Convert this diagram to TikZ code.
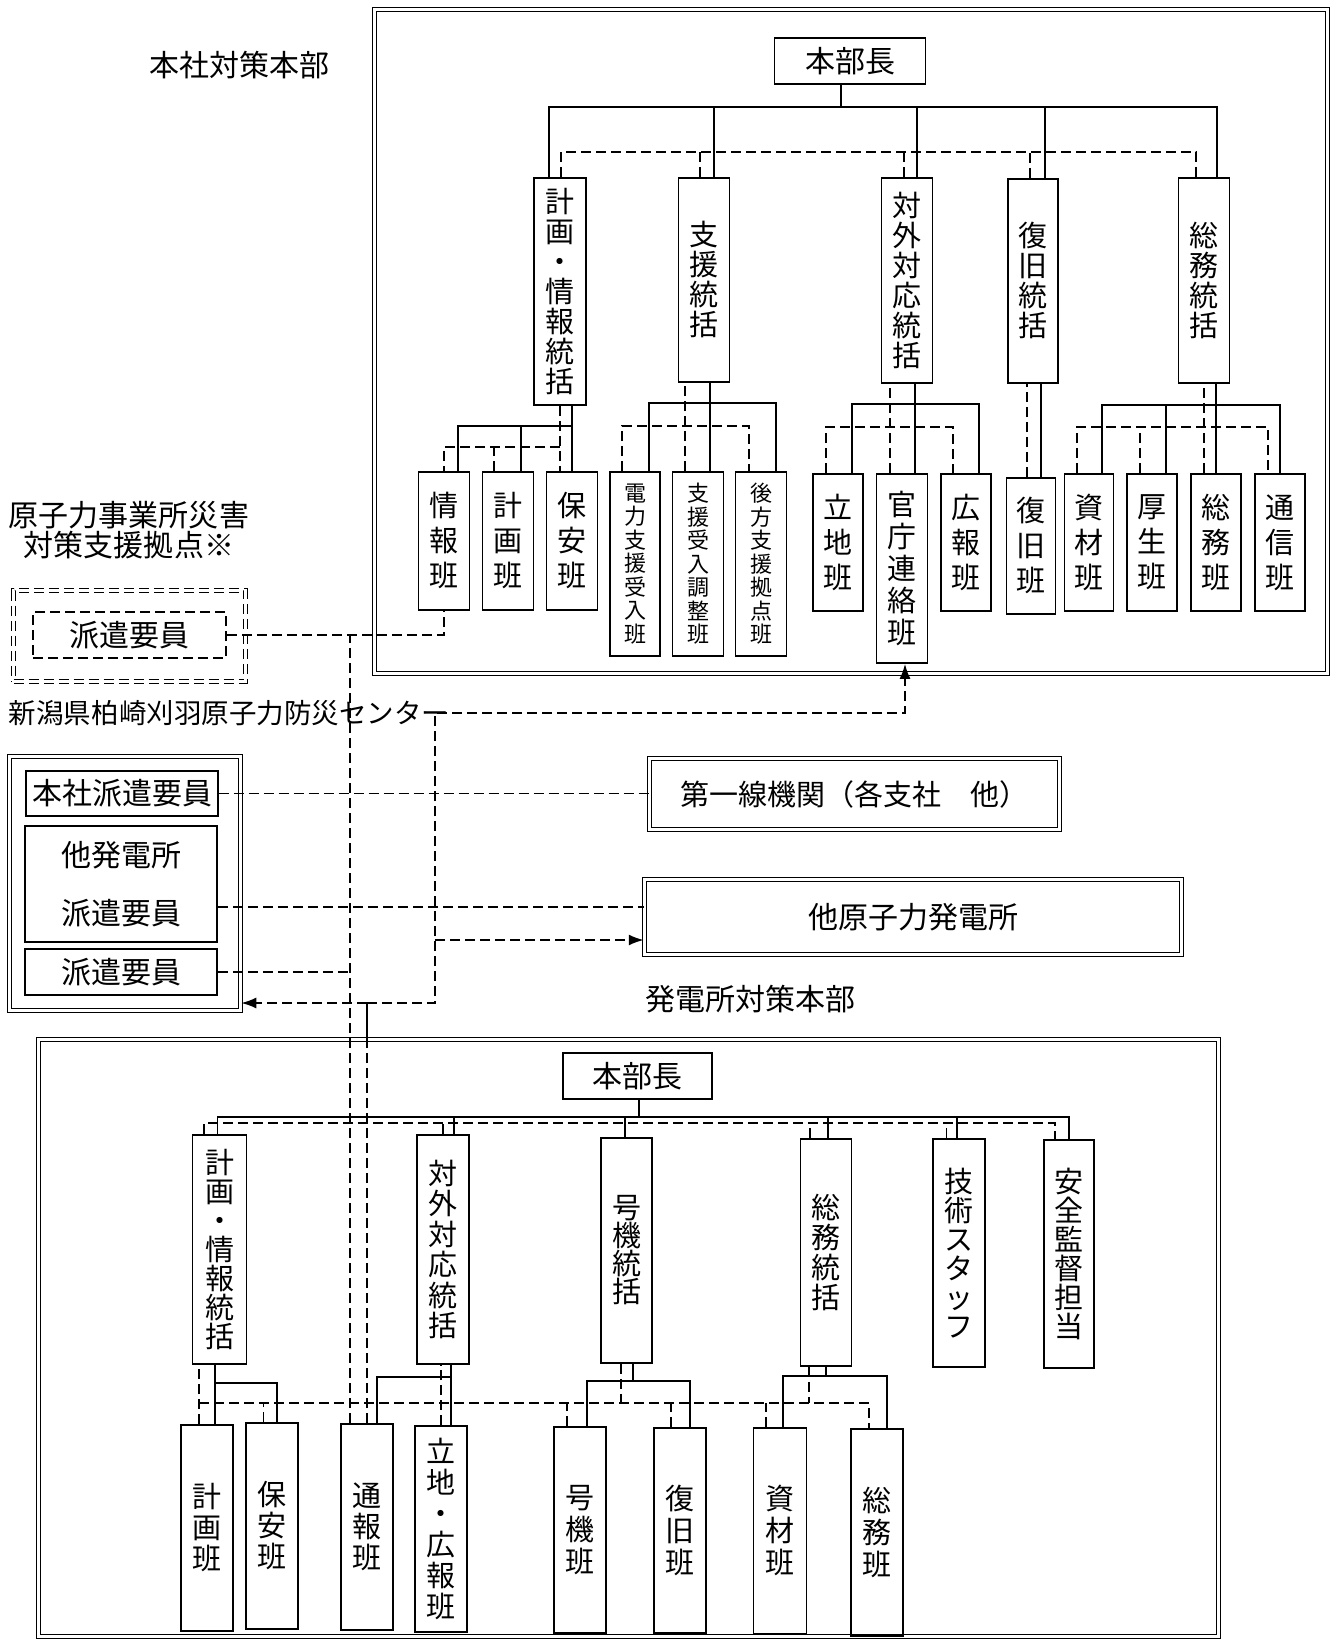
\documentclass[tikz,border=0pt]{standalone}
\usepackage{fontspec}
\setmainfont{Noto Sans CJK JP}
\usetikzlibrary{arrows.meta}

\tikzset{
  box/.style={draw, align=center, inner sep=0pt, font=\fontsize{30}{32}\selectfont},
  vbox/.style={draw, align=center, inner sep=0pt, anchor=north, font=\fontsize{29}{#1}\selectfont},
  vbox/.default=30,
  sbox/.style={draw, align=center, inner sep=0pt, anchor=north, font=\fontsize{22}{23.5}\selectfont},
  dframe/.style={draw, double, double distance=2.5pt, line width=1.5pt, inner sep=0pt},
  link/.style={dash pattern=on 10pt off 5pt},
  headtext/.style={align=center, inner sep=0pt, font=\fontsize{30}{30}\selectfont},
  tip/.style={-{Latex[length=15pt,width=11pt]}},
}

\begin{document}
\begin{tikzpicture}[x=1pt, y=-1pt, line width=1.8pt]
    \useasboundingbox (0,0) rectangle (1335,1645);

    % Head office nodes
    \node (honsha) [dframe, minimum width=953pt, minimum height=664pt] at (851,341.5) {};
    \node (hqtitle) [headtext] at (239,65) {本社対策本部};
    \node (hqA) [box, minimum width=151pt, minimum height=46pt] at (850,61) {本部長};

    \node (kjA) [vbox, minimum width=52pt, minimum height=227pt] at (560,177) {計\\画\\・\\情\\報\\統\\括};
    \node (shA) [vbox, minimum width=51pt, minimum height=204pt] at (704,177) {支\\援\\統\\括};
    \node (gtA) [vbox, minimum width=51pt, minimum height=205pt] at (907,177) {対\\外\\対\\応\\統\\括};
    \node (fkA) [vbox, minimum width=50pt, minimum height=204pt] at (1033,178) {復\\旧\\統\\括};
    \node (smA) [vbox, minimum width=51pt, minimum height=205pt] at (1204,177) {総\\務\\統\\括};

    \node (jhoA) [vbox=35, minimum width=51pt, minimum height=138pt] at (444,471) {情\\報\\班};
    \node (kkA) [vbox=35, minimum width=51pt, minimum height=138pt] at (508,471) {計\\画\\班};
    \node (hoA) [vbox=35, minimum width=51pt, minimum height=138pt] at (572,471) {保\\安\\班};
    \node (dsA) [sbox, minimum width=50pt, minimum height=184pt] at (635,471) {電\\力\\支\\援\\受\\入\\班};
    \node (suA) [sbox, minimum width=51pt, minimum height=184pt] at (698,471) {支\\援\\受\\入\\調\\整\\班};
    \node (kbA) [sbox, minimum width=51pt, minimum height=184pt] at (761,471) {後\\方\\支\\援\\拠\\点\\班};
    \node (rcA) [vbox=35, minimum width=50pt, minimum height=137pt] at (838,473) {立\\地\\班};
    \node (kcA) [vbox=32, minimum width=51pt, minimum height=189pt] at (902,473) {官\\庁\\連\\絡\\班};
    \node (khA) [vbox=35, minimum width=50pt, minimum height=137pt] at (966,473) {広\\報\\班};
    \node (fhA) [vbox=35, minimum width=49pt, minimum height=136pt] at (1031,477) {復\\旧\\班};
    \node (szA) [vbox=35, minimum width=49pt, minimum height=137pt] at (1089,473) {資\\材\\班};
    \node (kosA) [vbox=35, minimum width=50pt, minimum height=137pt] at (1152,473) {厚\\生\\班};
    \node (smhA) [vbox=35, minimum width=50pt, minimum height=137pt] at (1216,473) {総\\務\\班};
    \node (tsA) [vbox=35, minimum width=50pt, minimum height=137pt] at (1280,473) {通\\信\\班};

    % Head office lines
    \coordinate (busA) at (841,107);
    \draw (hqA.south -| busA) -- (busA);
    \draw (busA) -| ([xshift=-11pt]kjA.north);
    \draw (busA) -| ([xshift=10pt]shA.north);
    \draw (busA) -| ([xshift=10pt]gtA.north);
    \draw (busA) -| ([xshift=12pt]fkA.north);
    \draw (busA) -| ([xshift=13pt]smA.north);
    \draw[link] ([xshift=1pt]kjA.north) |- ([xshift=-8pt]smA.north |- 0,152) -- ([xshift=-8pt]smA.north);
    \draw[link] ([xshift=-4pt]shA.north) -- ([xshift=-4pt]shA.north |- 0,152);
    \draw[link] ([xshift=-3pt]gtA.north) -- ([xshift=-3pt]gtA.north |- 0,152);
    \draw[link] ([xshift=-3pt]fkA.north) -- ([xshift=-3pt]fkA.north |- 0,152);

    \draw ([xshift=12pt]kjA.south) -- (hoA.north);
    \draw (hoA.north |- 0,426) -| ([xshift=14pt]jhoA.north);
    \draw ([xshift=13pt]kkA.north) -- ([xshift=13pt]kkA.north |- 0,426);
    \draw[link] (kjA.south) -- ([xshift=-12pt]hoA.north);
    \draw[link] (kjA.south |- 0,447) -| (jhoA.north);
    \draw[link] ([xshift=-14pt]kkA.north) -- ([xshift=-14pt]kkA.north |- 0,447);

    \draw ([xshift=12pt]suA.north) -- ([xshift=12pt]suA.north |- shA.south);
    \draw ([xshift=14pt]dsA.north) |- ([xshift=15pt]kbA.north |- 0,403) -- ([xshift=15pt]kbA.north);
    \draw[link] ([xshift=-13pt]suA.north) -- ([xshift=-13pt]suA.north |- shA.south);
    \draw[link] ([xshift=-13pt]dsA.north) |- ([xshift=-12pt]kbA.north |- 0,426) -- ([xshift=-12pt]kbA.north);

    \draw ([xshift=13pt]kcA.north) -- ([xshift=13pt]kcA.north |- gtA.south);
    \draw ([xshift=14pt]rcA.north) |- ([xshift=13pt]khA.north |- 0,404) -- ([xshift=13pt]khA.north);
    \draw[link] ([xshift=-12pt]kcA.north) -- ([xshift=-12pt]kcA.north |- gtA.south);
    \draw[link] ([xshift=-12pt]rcA.north) |- ([xshift=-13pt]khA.north |- 0,427) -- ([xshift=-13pt]khA.north);

    \draw ([xshift=10pt]fhA.north) -- ([xshift=10pt]fhA.north |- fkA.south);
    \draw[link] ([xshift=-4pt]fhA.north) -- ([xshift=-4pt]fhA.north |- fkA.south);

    \draw (smhA.north) -- (smhA.north |- smA.south);
    \draw ([xshift=13pt]szA.north) |- (tsA.north |- 0,405) -- (tsA.north);
    \draw ([xshift=14pt]kosA.north) -- ([xshift=14pt]kosA.north |- 0,405);
    \draw[link] ([xshift=-12pt]smhA.north) -- ([xshift=-12pt]smhA.north |- smA.south);
    \draw[link] ([xshift=-12pt]szA.north) |- ([xshift=-12pt]tsA.north |- 0,427) -- ([xshift=-12pt]tsA.north);
    \draw[link] ([xshift=-12pt]kosA.north) -- ([xshift=-12pt]kosA.north |- 0,427);

    % Support base and centre
    \node (sbtitle) [headtext] at (129,530) {原子力事業所災害\\対策支援拠点※};
    \node (sbase) [dframe, link, minimum width=232pt, minimum height=91pt] at (129.5,636) {};
    \node (haken1) [box, link, minimum width=193pt, minimum height=46pt] at (129.5,635) {派遣要員};

    \node (ctitle) [headtext, font=\fontsize{27.5}{27.5}\selectfont] at (229,713) {新潟県柏崎刈羽原子力防災センター};
    \node (cntr) [dframe, minimum width=231pt, minimum height=254pt] at (125,883.5) {};
    \node (hhaken) [box, minimum width=192pt, minimum height=45pt] at (122,793.5) {本社派遣要員};
    \node (tahatsu) [box, minimum width=192pt, minimum height=116pt, font=\fontsize{30}{58}\selectfont] at (121,884) {他発電所\\派遣要員};
    \node (haken2) [box, minimum width=192pt, minimum height=46pt] at (121,972) {派遣要員};

    \node (daiichi) [dframe, font=\fontsize{29}{30}\selectfont, minimum width=410pt, minimum height=71pt] at (854.5,794) {第一線機関（各支社　他）};
    \node (tahou) [dframe, font=\fontsize{30}{30}\selectfont, minimum width=537pt, minimum height=75pt] at (913,917) {他原子力発電所};
    \node (pltitle) [headtext] at (750,999) {発電所対策本部};

    % Power station nodes
    \node (plant) [dframe, minimum width=1180pt, minimum height=597pt] at (628.5,1338) {};
    \node (hqB) [box, minimum width=149pt, minimum height=46pt] at (637.5,1076) {本部長};

    \node (kjB) [vbox=29, minimum width=54pt, minimum height=229pt] at (219.5,1134) {計\\画\\・\\情\\報\\統\\括};
    \node (gtB) [vbox=30.5, minimum width=52pt, minimum height=229pt] at (443,1134) {対\\外\\対\\応\\統\\括};
    \node (gkB) [vbox=28, minimum width=51pt, minimum height=225pt] at (626.5,1137) {号\\機\\統\\括};
    \node (smB) [vbox, minimum width=51pt, minimum height=227pt] at (826,1138) {総\\務\\統\\括};
    \node (gjB) [vbox=29, minimum width=52pt, minimum height=228pt] at (959,1138) {技\\術\\ス\\タ\\ッ\\フ};
    \node (anB) [vbox=29, minimum width=50pt, minimum height=228pt] at (1069,1139) {安\\全\\監\\督\\担\\当};

    \node (kkB) [vbox=31, minimum width=52pt, minimum height=206pt] at (207,1424) {計\\画\\班};
    \node (hoB) [vbox=31, minimum width=52pt, minimum height=206pt] at (272,1422) {保\\安\\班};
    \node (tuB) [vbox=31, minimum width=52pt, minimum height=206pt] at (367,1423) {通\\報\\班};
    \node (rkB) [vbox=31, minimum width=52pt, minimum height=206pt] at (441,1425) {立\\地\\・\\広\\報\\班};
    \node (gkhB) [vbox=32, minimum width=52pt, minimum height=206pt] at (580,1426) {号\\機\\班};
    \node (fhB) [vbox=32, minimum width=52pt, minimum height=205pt] at (680,1427) {復\\旧\\班};
    \node (szB) [vbox=32, minimum width=53pt, minimum height=206pt] at (780,1427) {資\\材\\班};
    \node (smhB) [vbox=32, minimum width=52pt, minimum height=207pt] at (877,1428) {総\\務\\班};

    % Power station lines
    \coordinate (busB) at (639,1117);
    \draw (hqB.south -| busB) -- (busB);
    \draw (busB) -| ([xshift=-2pt]kjB.north);
    \draw (busB) -| ([xshift=11pt]gtB.north);
    \draw (busB) -| ([xshift=-1.5pt]gkB.north);
    \draw (busB) -| ([xshift=2pt]smB.north);
    \draw (busB) -| ([xshift=-2pt]gjB.north);
    \draw (busB) -| (anB.north);
    \draw[link] ([xshift=-15.5pt]kjB.north) |- ([xshift=-14pt]anB.north |- 0,1123) -- ([xshift=-14pt]anB.north);
    \draw[link] (gtB.north) -- (gtB.north |- 0,1123);
    \draw[link] ([xshift=-16pt]smB.north) -- ([xshift=-16pt]smB.north |- 0,1123);
    \draw[link] ([xshift=-12.5pt]gjB.north) -- ([xshift=-12.5pt]gjB.north |- 0,1123);

    \draw ([xshift=8pt]kkB.north) -- ([xshift=8pt]kkB.north |- kjB.south);
    \draw ([xshift=8pt]kkB.north |- 0,1383) -| ([xshift=5pt]hoB.north);
    \draw[link] ([xshift=-8pt]kkB.north) -- ([xshift=-8pt]kkB.north |- kjB.south);

    \draw ([xshift=10pt]rkB.north) -- ([xshift=10pt]rkB.north |- gtB.south);
    \draw ([xshift=10pt]rkB.north |- 0,1377) -| ([xshift=10pt]tuB.north);
    \draw[link] (rkB.north) -- (rkB.north |- gtB.south);

    \draw ([xshift=6.5pt]gkB.south) -- ([xshift=6.5pt]gkB.south |- 0,1381);
    \draw ([xshift=7pt]gkhB.north) |- ([xshift=10pt]fhB.north |- 0,1381) -- ([xshift=10pt]fhB.north);
    \draw[link] ([xshift=-5.5pt]gkB.south) -- ([xshift=-5.5pt]gkB.south |- 0,1403);

    \draw (smB.south) -- (smB.south |- 0,1376);
    \draw ([xshift=3pt]szB.north) |- ([xshift=10pt]smhB.north |- 0,1376) -- ([xshift=10pt]smhB.north);
    \draw[link] ([xshift=-17pt]smB.south) -- ([xshift=-17pt]smB.south |- 0,1403);

    \draw[link] ([xshift=-8pt]kkB.north |- 0,1403) -| ([xshift=-8pt]smhB.north);
    \draw[link] ([xshift=-8.5pt]hoB.north) -- ([xshift=-8.5pt]hoB.north |- 0,1403);
    \draw[link] ([xshift=-13pt]gkhB.north) -- ([xshift=-13pt]gkhB.north |- 0,1403);
    \draw[link] ([xshift=-9pt]fhB.north) -- ([xshift=-9pt]fhB.north |- 0,1403);
    \draw[link] ([xshift=-14pt]szB.north) -- ([xshift=-14pt]szB.north |- 0,1403);

    % Links between offices
    \draw[link] (haken1.east) -| (jhoA.south);
    \draw[link] ([xshift=-17pt]tuB.north) -- ([xshift=-17pt]tuB.north |- haken1.east);
    \draw[link] (hhaken.east) -- (hhaken.east -| daiichi.west);
    \draw[link] ([yshift=-23pt]tahatsu.east) -- ([yshift=-23pt]tahatsu.east -| tahou.west);
    \draw[link] (haken2.east) -- ([xshift=-17pt]tuB.north |- haken2.east);

    \coordinate (rep) at (367,1003);
    \coordinate (bend) at (435,713);
    \coordinate (turn) at (435,940);
    \draw (rep) -- (rep |- plant.north);
    \draw[link] (tuB.north) -- (tuB.north |- plant.north);
    \draw[link, tip] (rep) -- (rep -| cntr.east);
    \draw[link, tip] (rep) -| (bend) -| ([xshift=3pt]kcA.south);
    \draw[link, tip] (turn) -- (turn -| tahou.west);
\end{tikzpicture}
\end{document}
